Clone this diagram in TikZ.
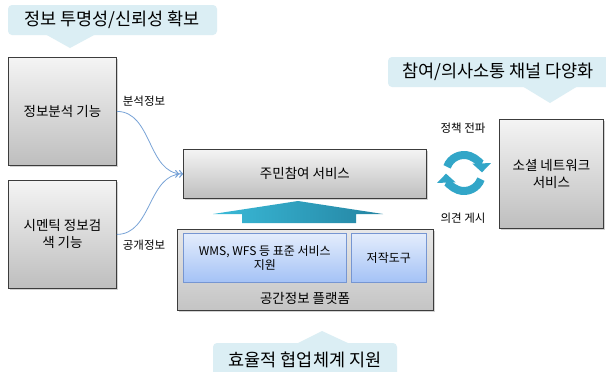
\documentclass[tikz,border=0pt]{standalone}
\usepackage{fontspec}
\setmainfont{Noto Sans CJK KR}
\usetikzlibrary{arrows.meta,shadows}
\definecolor{callfill}{RGB}{219,238,244}
\definecolor{edgegray}{RGB}{60,60,60}
\definecolor{cyc}{RGB}{50,166,200}
\definecolor{curvecol}{RGB}{120,163,215}
\definecolor{innerborder}{RGB}{118,150,210}
\definecolor{innertop}{RGB}{228,237,252}
\definecolor{innerbot}{RGB}{164,194,246}
\definecolor{gtop}{RGB}{244,244,244}
\definecolor{gbot}{RGB}{190,190,190}
\definecolor{ptop}{RGB}{232,232,232}
\definecolor{pbot}{RGB}{196,196,196}
\definecolor{arrL}{RGB}{58,186,216}
\definecolor{arrR}{RGB}{36,132,162}
\tikzset{
  gbox/.style={draw=edgegray, line width=0.8pt, top color=gtop, bottom color=gbot,
    anchor=north west, inner sep=0pt, align=center,
    font=\fontsize{13.5}{17}\selectfont,
    drop shadow={shadow xshift=1.2pt, shadow yshift=-1.2pt, opacity=0.35}},
  pbox/.style={draw=edgegray, line width=0.8pt, top color=ptop, bottom color=pbot,
    anchor=north west, inner sep=0pt,
    drop shadow={shadow xshift=1.2pt, shadow yshift=-1.2pt, opacity=0.35}},
  bbox/.style={draw=innerborder, line width=0.6pt, top color=innertop, bottom color=innerbot,
    anchor=north west, inner sep=0pt, align=center,
    font=\fontsize{12}{14}\selectfont},
  calltext/.style={font=\fontsize{17.5}{20}\selectfont},
  lbl/.style={font=\fontsize{11.5}{13}\selectfont},
  flow/.style={draw=curvecol, line width=0.8pt,
    -{Straight Barb[length=3pt,width=7pt]Straight Barb[length=3pt,width=7pt]}},
  cycarc/.style={draw=cyc, line width=8pt, -{Triangle[width=18pt,length=9pt]}}
}
\begin{document}
\begin{tikzpicture}[x=1pt,y=-1pt]
\clip (0,0) rectangle (606,372);
\fill[white] (0,0) rectangle (606,372);

% callout 1
\fill[callfill, rounded corners=4pt] (8,5) rectangle (217,35);
\fill[callfill] (45,34) -- (70,48) -- (96,34) -- cycle;
\node[calltext] (c1) at (112,20) {정보 투명성/신뢰성 확보};

% callout 2
\fill[callfill, rounded corners=4pt] (388,57) rectangle (612,87);
\fill[callfill] (522,86) -- (550,103) -- (578,86) -- cycle;
\node[calltext] (c2) at (498,72) {참여/의사소통 채널 다양화};

% callout 3
\fill[callfill, rounded corners=4pt] (213,343) rectangle (397,380);
\fill[callfill] (296,344) -- (322,331) -- (350,344) -- cycle;
\node[calltext] (c3) at (305,360) {효율적 협업체계 지원};

% left boxes
\node[gbox, minimum width=108pt, minimum height=108pt] (ana) at (8,57) {정보분석 기능};
\node[gbox, minimum width=108pt, minimum height=108pt] (sem) at (8,180) {시멘틱 정보검\\색 기능};

% service box
\node[gbox, minimum width=243pt, minimum height=49pt] (svc) at (183,149) {주민참여 서비스};

% social box
\node[gbox, minimum width=104pt, minimum height=109pt] (sns) at (499,119) {소셜 네트워크\\서비스};

% platform
\node[pbox, minimum width=256pt, minimum height=81pt] (plat) at (177,229) {};
\node[font=\fontsize{13.5}{15}\selectfont] (platlbl) at (305,298) {공간정보 플랫폼};
\node[bbox, minimum width=163pt, minimum height=49pt] (wms) at (183,233) {WMS, WFS 등 표준 서비스\\지원};
\node[bbox, minimum width=75pt, minimum height=49pt] (tool) at (351,233) {저작도구};

% big upward arrow
\shade[left color=arrL, right color=arrR]
  (242,223) -- (242,214) -- (213,214) -- (298,201) -- (383,214) -- (356,214) -- (356,223) -- cycle;

% flows
\draw[flow] (ana.east) to[out=0,in=180] (svc.west);
\draw[flow] (sem.east) to[out=0,in=180] (svc.west);
\node[lbl] (l1) at (144,101) {분석정보};
\node[lbl] (l2) at (144,245) {공개정보};

% cycle
\coordinate (cc) at (464,173);
\draw[cycarc] (cc) ++(200:18) arc[start angle=200, end angle=358, radius=18];
\draw[cycarc] (cc) ++(20:18) arc[start angle=20, end angle=178, radius=18];
\node[lbl] (l3) at (463,128) {정책 전파};
\node[lbl] (l4) at (463,218) {의견 게시};
\end{tikzpicture}
\end{document}
